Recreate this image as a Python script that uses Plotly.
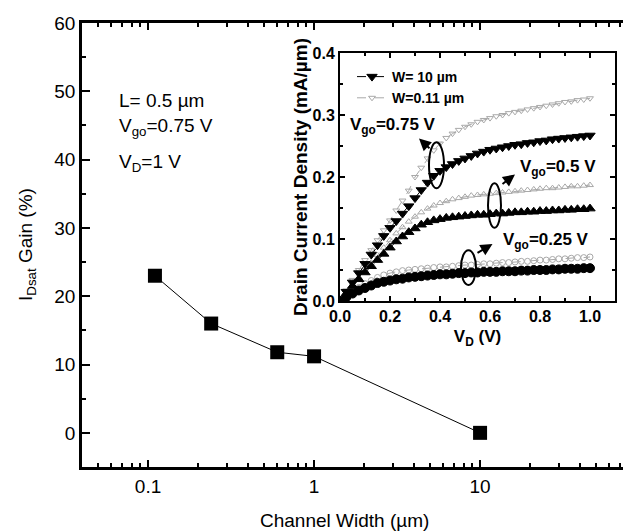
import plotly.graph_objects as go

# ---------------- main data ----------------
width_um = [0.11, 0.24, 0.6, 1.0, 10.0]
gain_pct = [23.0, 16.0, 11.8, 11.2, 0.0]

# ---------------- inset data (V_D sweep) ----------------
vd = [i / 40 for i in range(41)]
w10_075 = [0.0, 0.015, 0.03, 0.045, 0.06, 0.075, 0.09, 0.105, 0.118, 0.129, 0.141, 0.153, 0.166, 0.179,
           0.191, 0.202, 0.210, 0.216, 0.221, 0.226, 0.230, 0.234, 0.238, 0.241, 0.244, 0.246, 0.248,
           0.250, 0.252, 0.253, 0.255, 0.256, 0.258, 0.259, 0.261, 0.262, 0.263, 0.264, 0.265, 0.266, 0.267]
w10_05 = [0.0, 0.012, 0.024, 0.035, 0.046, 0.056, 0.066, 0.076, 0.086, 0.096, 0.104, 0.111, 0.117, 0.123,
          0.127, 0.130, 0.132, 0.134, 0.135, 0.136, 0.137, 0.138, 0.139, 0.139, 0.140, 0.141, 0.141,
          0.142, 0.143, 0.143, 0.144, 0.144, 0.145, 0.145, 0.146, 0.146, 0.147, 0.147, 0.148, 0.148, 0.149]
w10_025 = [0.0, 0.006, 0.012, 0.017, 0.021, 0.025, 0.029, 0.031, 0.033, 0.035, 0.036, 0.038, 0.039, 0.040,
           0.041, 0.042, 0.043, 0.043, 0.044, 0.045, 0.045, 0.046, 0.046, 0.047, 0.047, 0.047, 0.048,
           0.048, 0.048, 0.049, 0.049, 0.050, 0.050, 0.050, 0.051, 0.051, 0.052, 0.052, 0.052, 0.053, 0.053]
w011_075 = [0.0, 0.017, 0.034, 0.050, 0.066, 0.082, 0.098, 0.114, 0.130, 0.146, 0.162, 0.178, 0.200, 0.215,
            0.230, 0.243, 0.254, 0.263, 0.270, 0.276, 0.281, 0.285, 0.289, 0.292, 0.295, 0.298, 0.300,
            0.303, 0.305, 0.307, 0.309, 0.311, 0.313, 0.315, 0.317, 0.319, 0.321, 0.322, 0.324, 0.325, 0.327]
w011_05 = [0.0, 0.013, 0.026, 0.038, 0.050, 0.062, 0.074, 0.086, 0.098, 0.109, 0.119, 0.128, 0.136, 0.143,
           0.149, 0.154, 0.158, 0.161, 0.164, 0.166, 0.168, 0.170, 0.171, 0.172, 0.173, 0.174, 0.175,
           0.176, 0.177, 0.178, 0.179, 0.180, 0.181, 0.182, 0.182, 0.183, 0.184, 0.185, 0.185, 0.186, 0.187]
w011_025 = [0.0, 0.008, 0.016, 0.022, 0.028, 0.033, 0.038, 0.042, 0.045, 0.047, 0.049, 0.050, 0.051, 0.052,
            0.053, 0.054, 0.055, 0.055, 0.056, 0.057, 0.058, 0.058, 0.059, 0.060, 0.060, 0.061, 0.062,
            0.062, 0.063, 0.064, 0.064, 0.065, 0.066, 0.066, 0.067, 0.068, 0.068, 0.069, 0.070, 0.070, 0.071]

main_xticks = [0.1, 1, 10]
main_xticklabels = ["0.1", "1", "10"]
main_xminor = [0.05, 0.06, 0.07, 0.08, 0.09, 0.2, 0.3, 0.4, 0.5, 0.6, 0.7, 0.8, 0.9,
               2, 3, 4, 5, 6, 7, 8, 9, 20, 30, 40, 50, 60, 70, 80]

FONT = "Liberation Sans, Arial, sans-serif"
W, H = 635, 531
ML, MR, MT, MB = 82, 12, 23, 64
PW, PH = W - ML - MR, H - MT - MB
DECADE = 166.0
XRANGE = [-1.398, -1.398 + PW / DECADE]


def px_x(p):
    return (p - ML) / PW


def px_y(p):
    return (H - MB - p) / PH


fig = go.Figure()

fig.add_trace(go.Scatter(
    x=width_um, y=gain_pct, mode="lines+markers",
    line=dict(color="black", width=1),
    marker=dict(symbol="square", size=14, color="black"),
    showlegend=False, xaxis="x", yaxis="y"))

black = "black"
grey = "#a8a8a8"
series = [
    (w011_075, "triangle-down-open", grey, "W=0.11 µm", True),
    (w011_05, "triangle-up-open", grey, None, False),
    (w011_025, "circle-open", grey, None, False),
    (w10_075, "triangle-down", black, "W= 10 µm", True),
    (w10_05, "triangle-up", black, None, False),
    (w10_025, "circle", black, None, False),
]
for ys, sym, col, name, show in series:
    is_grey = col == grey
    fig.add_trace(go.Scatter(
        x=vd, y=ys, mode="lines+markers", name=name or "",
        legendgroup="g" if is_grey else "b",
        showlegend=show,
        line=dict(color=col, width=1, dash="dash"),
        marker=dict(symbol=sym, size=6 if is_grey else 9, color=col,
                    line=dict(color=col, width=1)),
        xaxis="x2", yaxis="y2"))

tickfont_main = dict(family=FONT, size=19, color="black")
minor_x = dict(tickmode="array", tickvals=main_xminor, ticks="inside",
               ticklen=4, tickwidth=2, tickcolor="black", showgrid=False)
fig.update_layout(
    width=W, height=H,
    margin=dict(l=ML, r=MR, t=MT, b=MB, pad=0),
    paper_bgcolor="white", plot_bgcolor="white",
    font=dict(family=FONT, color="black"),
    xaxis=dict(type="log", range=XRANGE, domain=[0, 1],
               tickmode="array", tickvals=main_xticks, ticktext=main_xticklabels,
               ticks="inside", ticklen=7, tickwidth=2, tickcolor="black",
               minor=minor_x,
               showline=True, linewidth=2.5, linecolor="black", mirror="ticks",
               showgrid=False, zeroline=False, tickfont=tickfont_main),
    yaxis=dict(range=[-5, 60], domain=[0, 1], tickmode="array",
               tickvals=[0, 10, 20, 30, 40, 50, 60],
               ticks="inside", ticklen=8, tickwidth=2, tickcolor="black",
               minor=dict(tickmode="array", tickvals=[5, 15, 25, 35, 45, 55], ticks="inside",
                          ticklen=4, tickwidth=2, tickcolor="black", showgrid=False),
               showline=True, linewidth=2.5, linecolor="black", mirror=False,
               showgrid=False, zeroline=False, tickfont=tickfont_main),
    xaxis2=dict(domain=[px_x(340), px_x(615)], anchor="y2", range=[0, 1.1],
                tickmode="array", tickvals=[0, 0.2, 0.4, 0.6, 0.8, 1.0],
                ticktext=["0.0", "0.2", "0.4", "0.6", "0.8", "1.0"],
                ticks="inside", ticklen=5, tickwidth=2, tickcolor="black",
                minor=dict(tickmode="array", tickvals=[0.1, 0.3, 0.5, 0.7, 0.9], ticks="inside",
                           ticklen=3, tickwidth=2, tickcolor="black"),
                showline=True, linewidth=2, linecolor="black", mirror="ticks",
                showgrid=False, zeroline=False,
                tickfont=dict(family=FONT, size=16, color="black", weight="bold"),
                title=dict(text="V<sub>D</sub> (V)", standoff=6,
                           font=dict(family=FONT, size=17, color="black", weight="bold"))),
    yaxis2=dict(domain=[px_y(301), px_y(53)], anchor="x2", range=[0, 0.4],
                tickmode="array", tickvals=[0, 0.1, 0.2, 0.3, 0.4],
                ticktext=["0.0", "0.1", "0.2", "0.3", "0.4"],
                ticks="inside", ticklen=5, tickwidth=2, tickcolor="black",
                minor=dict(tickmode="array", tickvals=[0.05, 0.15, 0.25, 0.35], ticks="inside",
                           ticklen=3, tickwidth=2, tickcolor="black"),
                showline=True, linewidth=2, linecolor="black", mirror="ticks",
                showgrid=False, zeroline=False,
                tickfont=dict(family=FONT, size=16, color="black", weight="bold"),
                title=dict(text="Drain Current Density (mA/µm)", standoff=0,
                           font=dict(family=FONT, size=19, color="black", weight="bold"))),
    legend=dict(x=px_x(352), y=px_y(61), xanchor="left", yanchor="top",
                bgcolor="rgba(0,0,0,0)", borderwidth=0, tracegroupgap=0,
                font=dict(family=FONT, size=14, color="black", weight="bold"),
                traceorder="reversed", itemwidth=30),
)

# inset plot background
fig.add_shape(type="rect", xref="x2 domain", yref="y2 domain", x0=0, x1=1, y0=0, y1=1,
              fillcolor="white", line=dict(width=0), layer="below")

# ellipses
ellipses = [(0.356, 0.416, 0.182, 0.256), (0.592, 0.644, 0.118, 0.19), (0.484, 0.544, 0.026, 0.082)]
for x0, x1, y0, y1 in ellipses:
    fig.add_shape(type="circle", xref="x2", yref="y2", x0=x0, x1=x1, y0=y0, y1=y1,
                  line=dict(color="black", width=2))

# arrows (head, tail)
arrows = [((0.316, 0.262), (0.364, 0.244)), ((0.70, 0.204), (0.644, 0.187)), ((0.61, 0.092), (0.544, 0.076))]
for (hx, hy), (tx, ty) in arrows:
    fig.add_annotation(x=hx, y=hy, ax=tx, ay=ty, xref="x2", yref="y2", axref="x2", ayref="y2",
                       showarrow=True, arrowhead=2, arrowsize=1.2, arrowwidth=2, arrowcolor="black",
                       text="")

bold17 = dict(family=FONT, size=17, color="black", weight="bold")
for txt, x, y in [("V<sub>go</sub>=0.75 V", 0.03, 0.282), ("V<sub>go</sub>=0.5 V", 0.71, 0.215),
                  ("V<sub>go</sub>=0.25 V", 0.642, 0.097)]:
    fig.add_annotation(x=x, y=y, xref="x2", yref="y2", text=txt, showarrow=False,
                       xanchor="left", yanchor="middle", font=bold17)

reg = dict(family=FONT, size=19, color="black")
for txt, py in [("L= 0.5 µm", 101), ("V<sub>go</sub>=0.75 V", 127), ("V<sub>D</sub>=1 V", 163)]:
    fig.add_annotation(x=px_x(117), y=px_y(py), xref="paper", yref="paper", text=txt,
                       showarrow=False, xanchor="left", yanchor="middle", font=reg)

# axis titles of main plot
fig.add_annotation(x=px_x(344), y=px_y(520), xref="paper", yref="paper",
                   text="Channel Width (µm)", showarrow=False, xanchor="center", yanchor="middle",
                   font=dict(family=FONT, size=19, color="black"))
fig.add_annotation(x=px_x(27), y=px_y(245), xref="paper", yref="paper",
                   text="I<sub>Dsat</sub> Gain (%)", showarrow=False, textangle=-90,
                   xanchor="center", yanchor="middle",
                   font=dict(family=FONT, size=19, color="black"))

fig.write_html("out.html")
